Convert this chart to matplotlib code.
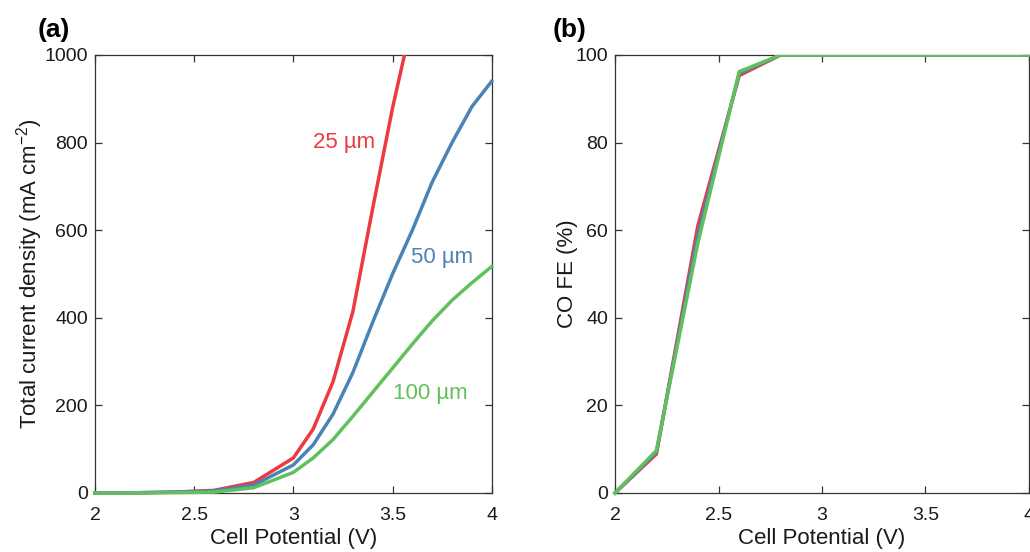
"""
Membrane thickness comparison: total current density and CO faradaic efficiency
versus cell potential for 25, 50 and 100 um membranes.
"""
import numpy as np
import matplotlib
matplotlib.use("Agg")
import matplotlib.pyplot as plt
from matplotlib.patches import Rectangle

plt.rcParams['font.family'] = ['Liberation Sans', 'DejaVu Sans']

# --- current density data (mA cm^-2) ---
potential_j = [2.0, 2.2, 2.4, 2.6, 2.8, 3.0, 3.1, 3.2, 3.3, 3.4, 3.5, 3.6, 3.7, 3.8, 3.9, 4.0]
j_25um = [0, 0.5, 2, 6, 24, 80, 146, 254, 414, 650, 879, 1080]
j_50um = [0, 0.5, 2, 5, 18, 64, 110, 180, 275, 390, 500, 600, 710, 800, 882, 940]
j_100um = [0, 0.3, 1, 2, 12, 47, 80, 122, 175, 230, 285, 340, 393, 440, 480, 517]

# --- CO faradaic efficiency data (%) ---
potential_fe = [2.0, 2.2, 2.4, 2.6, 2.8, 3.0, 3.2, 3.4, 3.6, 3.8, 4.0]
fe_25um = [0, 8.9, 61, 95.3, 100, 100, 100, 100, 100, 100, 100]
fe_50um = [0, 9.3, 59, 95.8, 100, 100, 100, 100, 100, 100, 100]
fe_100um = [0, 9.7, 57, 96.2, 100, 100, 100, 100, 100, 100, 100]

thickness_labels = ['25 µm', '50 µm', '100 µm']
colors = ['#EC3A40', '#4A84B6', '#62C05C']
axis_color = '#333333'


def style_axes(ax, yticks):
    """MATLAB-like box axes with inward ticks on all sides."""
    ax.set_xlim(2, 4)
    ax.set_xticks([2, 2.5, 3, 3.5, 4])
    ax.set_xticklabels(['2', '2.5', '3', '3.5', '4'])
    ax.set_yticks(yticks)
    ax.tick_params(direction='in', top=True, right=True, length=5, width=0.9,
                   labelsize=14, colors=axis_color, labelcolor='#1a1a1a', pad=5)
    ax.tick_params(axis='x', pad=10)
    for spine in ax.spines.values():
        spine.set_color(axis_color)
        spine.set_linewidth(0.9)
    ax.set_xlabel('Cell Potential (V)', fontsize=16, color='#1a1a1a', labelpad=3)


def draw_line(ax, x, y, color):
    line, = ax.plot(x[:len(y)], y, color=color, linewidth=2.5, zorder=3)
    # keep the part that sits on the bottom spine, but cut everything above the top
    clip = Rectangle((-0.02, -0.02), 1.04, 1.02, transform=ax.transAxes)
    line.set_clip_path(clip)
    return line


fig = plt.figure(figsize=(10.30, 5.52), dpi=100)
ax_j = fig.add_axes([0.0922, 0.1069, 0.3852, 0.7935])
ax_fe = fig.add_axes([0.5971, 0.1069, 0.4019, 0.7935])

# (a) total current density
for y, c in zip([j_25um, j_50um, j_100um], colors):
    draw_line(ax_j, potential_j, y, c)
ax_j.set_ylim(0, 1000)
style_axes(ax_j, [0, 200, 400, 600, 800, 1000])
ax_j.set_ylabel('Total current density (mA cm$^{\\mathregular{-2}}$)', fontsize=16,
                color='#1a1a1a', labelpad=0)

ax_j.text(3.10, 800, thickness_labels[0], color=colors[0], fontsize=16, va='center')
ax_j.text(3.595, 537, thickness_labels[1], color=colors[1], fontsize=16, va='center')
ax_j.text(3.50, 228, thickness_labels[2], color=colors[2], fontsize=16, va='center')

# (b) CO faradaic efficiency
for y, c in zip([fe_25um, fe_50um, fe_100um], colors):
    draw_line(ax_fe, potential_fe, y, c)
ax_fe.set_ylim(0, 100)
style_axes(ax_fe, [0, 20, 40, 60, 80, 100])
ax_fe.set_ylabel('CO FE (%)', fontsize=16, color='#1a1a1a', labelpad=-2)

fig.text(0.037, 0.945, '(a)', fontsize=19, fontweight='bold', va='center')
fig.text(0.537, 0.945, '(b)', fontsize=19, fontweight='bold', va='center')

fig.savefig('out.png', dpi=100)
